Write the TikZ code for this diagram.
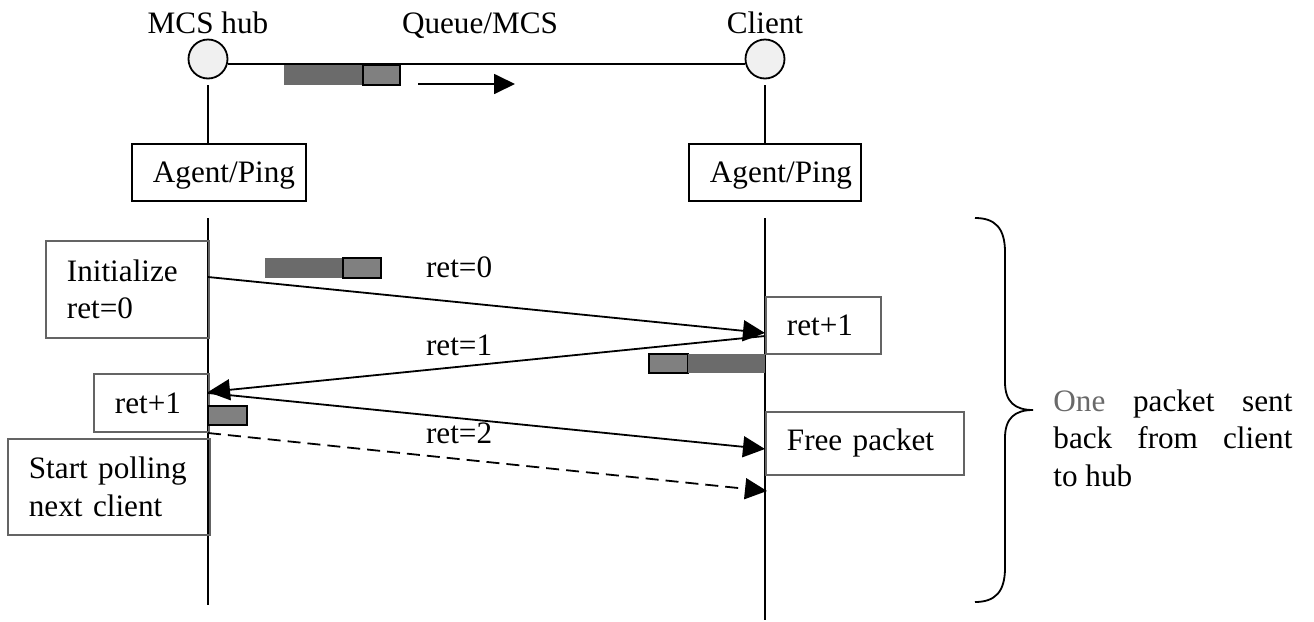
\documentclass[tikz,border=0pt]{standalone}
\usepackage{fontspec}
\setmainfont{Liberation Serif}
\usetikzlibrary{arrows.meta,calc}
\definecolor{pktdark}{RGB}{107,107,107}
\definecolor{pktlight}{RGB}{128,128,128}
\definecolor{boxgray}{RGB}{100,100,100}
\definecolor{dotfill}{RGB}{240,240,240}
\definecolor{onegray}{RGB}{105,105,105}

\begin{document}
\begin{tikzpicture}[x=0.5pt,y=-0.5pt,
  every node/.style={font=\fontsize{15.6}{18.9}\selectfont},
  lane/.style={line width=0.9pt},
  hubdot/.style={circle,draw,line width=0.9pt,fill=dotfill,minimum size=19.5pt,inner sep=0pt},
  agentbox/.style={draw,line width=0.9pt,anchor=north west,inner xsep=10.5pt,inner ysep=0pt,align=left,text depth=0pt},
  stepbox/.style={draw=boxgray,line width=0.9pt,anchor=north west,inner xsep=10.5pt,inner ysep=0pt,align=left},
  msg/.style={line width=0.9pt,-{Triangle[length=11pt,width=10.5pt]}},
  pkt/.style={anchor=north west,inner sep=0pt,outer sep=0pt,minimum height=10pt},
  pktdarkbox/.style={pkt,fill=pktdark},
  pktlightbox/.style={pkt,fill=pktlight,draw,line width=0.9pt},
]
\useasboundingbox (0,0) rectangle (1314,622);

% top row: end points and the queue between them
\node[hubdot] (hub) at (208,59) {};
\node[hubdot] (client) at (765,59) {};
\node[anchor=base] (hublbl) at (208,33) {MCS hub};
\node[anchor=base] (queuelbl) at (480,33) {Queue/MCS};
\node[anchor=base] (clientlbl) at (765,33) {Client};
\draw[lane] (hub.-15) -- (client.195);

% packet travelling along the queue
\node[pktdarkbox,minimum width=39.5pt] (qpa) at (284,65) {};
\node[pktlightbox,minimum width=18.5pt] (qpb) at (363,65) {};
\coordinate (qa) at (418,84);
\coordinate (qb) at (515,84);
\draw[line width=0.9pt,-{Triangle[length=10.5pt,width=10pt]}] (qa) -- (qb);

% agents
\node[agentbox,text width=66pt,minimum height=28.5pt] (hubagent) at (131,143) {Agent/Ping};
\node[agentbox,text width=65pt,minimum height=28.5pt] (cliagent) at (688,143) {Agent/Ping};
\draw[lane] ($(hub.south)+(0,6)$) -- (hub |- hubagent.north);
\draw[lane] ($(client.south)+(0,6)$) -- (client |- cliagent.north);

% lifelines
\coordinate (hubtop) at (208,218);
\coordinate (hubbot) at (208,605);
\coordinate (clitop) at (765,218);
\coordinate (clibot) at (765,620);
\draw[lane] (hubtop) -- (hubbot);
\draw[lane] (clitop) -- (clibot);

% steps on the hub side
\node[stepbox,text width=60.5pt,minimum height=48.5pt] (init) at (45,240) {Initialize\\ret=0};
\node[stepbox,text width=36.5pt,minimum height=29pt] (hubinc) at (93,373) {ret+1};
\node[stepbox,text width=80pt,minimum height=48pt] (poll) at (7,438) {Start polling\\next client};

% steps on the client side
\node[stepbox,text width=36.5pt,minimum height=28.5pt] (cliinc) at (765,296) {ret+1};
\node[stepbox,text width=78pt,minimum height=31.5pt] (freep) at (765,411) {Free packet};

% packets in flight
\node[pktdarkbox,minimum width=39pt] (p0a) at (265,258) {};
\node[pktlightbox,minimum width=19pt] (p0b) at (343,258) {};
\node[pktlightbox,minimum width=19.5pt,minimum height=9.5pt] (p1a) at (649,354) {};
\node[pktdarkbox,minimum width=38.5pt,minimum height=9.5pt] (p1b) at (688,354) {};
\node[pktlightbox,minimum width=19.5pt,minimum height=9.5pt] (p2a) at (208,406) {};

% messages
\coordinate (h0) at (208,277);
\coordinate (c0) at (765,333);
\coordinate (c1) at (765,336);
\coordinate (h1) at (208,392);
\coordinate (h2) at (208,393);
\coordinate (c2) at (765,449);
\coordinate (h3) at (208,433);
\coordinate (c3) at (767,491);
\draw[msg] (h0) -- (c0);
\draw[msg] (c1) -- (h1);
\draw[msg] (h2) -- (c2);
\draw[msg,dash pattern=on 6.5pt off 3.5pt] (h3) -- (c3);
\node[anchor=base west] (ret0) at (419,277) {ret=0};
\node[anchor=base west] (ret1) at (419,355) {ret=1};
\node[anchor=base west] (ret2) at (419,443) {ret=2};

% brace and its note
\draw[line width=0.9pt] (975,218) .. controls (995,218) and (1005,228) .. (1005,252)
  -- (1005,382) .. controls (1005,402) and (1015,410) .. (1033,410)
  .. controls (1015,410) and (1005,418) .. (1005,438)
  -- (1005,568) .. controls (1005,592) and (995,602) .. (975,602);
\node[anchor=north west,inner sep=0pt,align=left] (note) at (1053,389)
  {\makebox[119.5pt][s]{\textcolor{onegray}{One} packet sent}\\
   \makebox[119.5pt][s]{back from client}\\
   to hub};
\end{tikzpicture}
\end{document}
